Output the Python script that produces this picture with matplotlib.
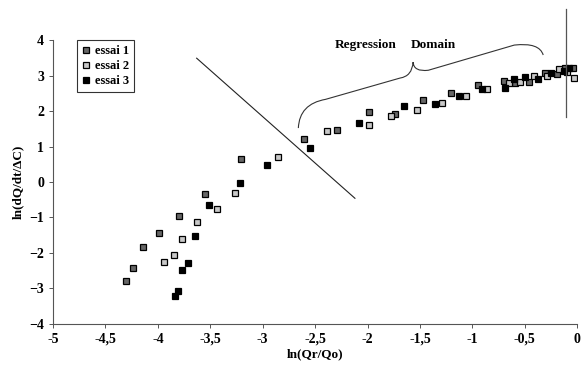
import numpy as np
import matplotlib
matplotlib.use('Agg')
import matplotlib.pyplot as plt
from matplotlib.path import Path
from matplotlib.patches import PathPatch

plt.rcParams['font.family'] = ['Liberation Serif', 'DejaVu Serif']
plt.rcParams['font.weight'] = 'bold'

# data
x1 = [-4.30, -4.24, -4.14, -3.99, -3.80, -3.55, -3.21, -2.61, -2.29, -1.99, -1.74, -1.47, -1.20,
      -0.95, -0.70, -0.59, -0.46, -0.31, -0.19, -0.115, -0.04]
y1 = [-2.80, -2.43, -1.84, -1.45, -0.97, -0.33, 0.65, 1.22, 1.47, 1.98, 1.92, 2.31, 2.51,
      2.74, 2.85, 2.80, 2.82, 3.07, 3.04, 3.21, 3.21]
x2 = [-3.94, -3.85, -3.77, -3.63, -3.44, -3.26, -2.85, -2.39, -1.985, -1.78, -1.53, -1.29, -1.06,
      -0.86, -0.65, -0.55, -0.41, -0.29, -0.17, -0.095, -0.03]
y2 = [-2.26, -2.07, -1.62, -1.14, -0.75, -0.30, 0.71, 1.44, 1.62, 1.87, 2.04, 2.22, 2.43,
      2.62, 2.78, 2.82, 2.99, 2.99, 3.18, 3.10, 2.93]
x3 = [-3.84, -3.81, -3.77, -3.71, -3.65, -3.51, -3.22, -2.96, -2.55, -2.08, -1.65, -1.36, -1.13,
      -0.91, -0.69, -0.60, -0.50, -0.37, -0.25, -0.13, -0.075]
y3 = [-3.22, -3.08, -2.49, -2.29, -1.53, -0.66, -0.02, 0.48, 0.97, 1.67, 2.15, 2.20, 2.43,
      2.62, 2.65, 2.90, 2.96, 2.90, 3.07, 3.13, 3.21]

x_ticks = [-5, -4.5, -4, -3.5, -3, -2.5, -2, -1.5, -1, -0.5, 0]
x_labels = ['-5', '-4,5', '-4', '-3,5', '-3', '-2,5', '-2', '-1,5', '-1', '-0,5', '0']
y_ticks = [-4, -3, -2, -1, 0, 1, 2, 3, 4]

# annotation geometry
diag_x = [-3.63, -2.12]
diag_y = [3.49, -0.46]
vline_x = -0.105
vline_y = [1.84, 4.87]
brace_pts = [(-2.66, 1.52), (-2.65, 2.20), (-2.40, 2.33), (-1.69, 2.93), (-1.575, 2.98), (-1.565, 3.38),
             (-1.56, 3.10), (-1.42, 3.15), (-0.60, 3.86), (-0.36, 3.94), (-0.324, 3.58)]
brace_codes = [Path.MOVETO, Path.CURVE3, Path.CURVE3, Path.LINETO, Path.CURVE3, Path.CURVE3,
               Path.CURVE3, Path.CURVE3, Path.LINETO, Path.CURVE3, Path.CURVE3]

fig = plt.figure(figsize=(5.83, 3.68), dpi=100)
ax = fig.add_axes([0.091, 0.12, 0.899, 0.771])

ms = 5
ax.plot(x1, y1, 's', ms=ms, mfc='#666666', mec='black', mew=0.9, label='essai 1')
ax.plot(x2, y2, 's', ms=ms, mfc='#c8c8c8', mec='black', mew=0.9, label='essai 2')
ax.plot(x3, y3, 's', ms=ms, mfc='black', mec='black', mew=0.9, label='essai 3')

ax.plot(diag_x, diag_y, color='#222222', lw=0.8)
ax.plot([vline_x, vline_x], vline_y, color='#555555', lw=0.9, clip_on=False)
ax.add_patch(PathPatch(Path(brace_pts, brace_codes), fill=False, edgecolor='#333333', lw=0.8))
ax.text(-2.02, 3.86, 'Regression', ha='center', va='center', fontsize=9.5, fontweight='bold')
ax.text(-1.37, 3.86, 'Domain', ha='center', va='center', fontsize=9.5, fontweight='bold')

ax.set_xlim(-5, 0)
ax.set_ylim(-4, 4)
ax.set_xticks(x_ticks)
ax.set_xticklabels(x_labels)
ax.set_yticks(y_ticks)
ax.tick_params(labelsize=10, length=3, width=0.7, color='#555555')
ax.spines['top'].set_visible(False)
ax.spines['right'].set_visible(False)
ax.spines['left'].set_color('#555555')
ax.spines['bottom'].set_color('#555555')
ax.set_xlabel('ln(Qr/Qo)', fontsize=9.5, fontweight='bold', labelpad=2)
ax.set_ylabel('ln(dQ/dt/ΔC)', fontsize=9.5, fontweight='bold', labelpad=4)

leg = ax.legend(loc='upper left', bbox_to_anchor=(0.046, 1.0), borderaxespad=0, fontsize=9,
                frameon=True, fancybox=False, edgecolor='black', handlelength=0.6,
                handletextpad=0.4, borderpad=0.4, labelspacing=0.25, markerscale=0.8)
leg.get_frame().set_linewidth(0.8)

fig.savefig('out.png', dpi=100)
